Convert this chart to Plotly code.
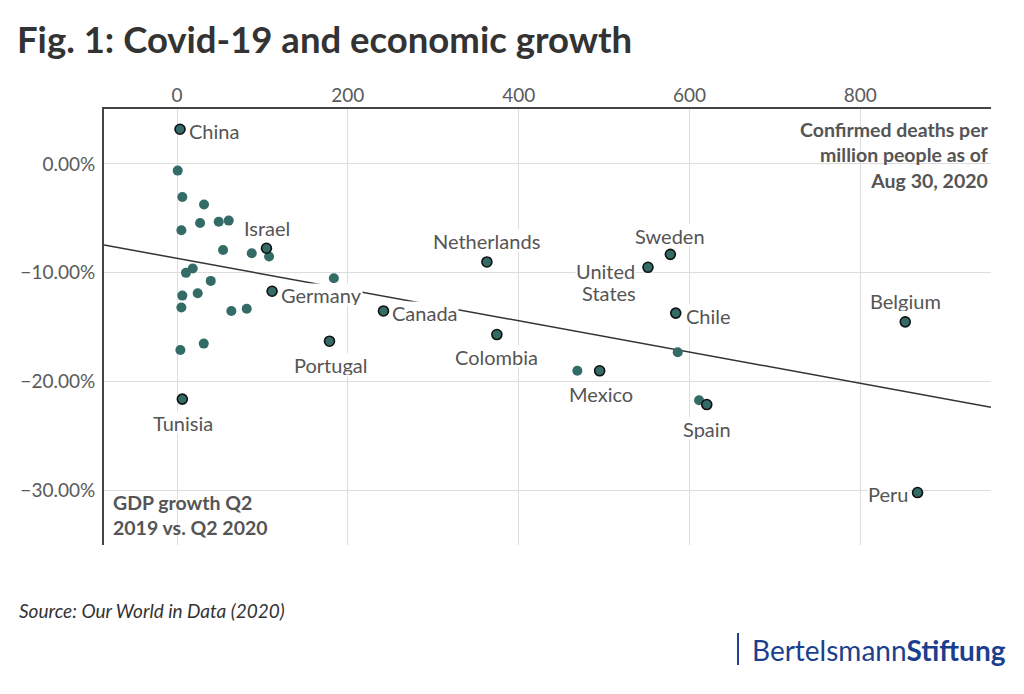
import plotly.graph_objects as go

# countries that get a label (deaths per million, GDP growth in %)
labeled_names = ["China", "Israel", "Germany", "Netherlands", "Canada", "Portugal",
                 "Colombia", "Tunisia", "Sweden", "United States", "Chile",
                 "Belgium", "Mexico", "Spain", "Peru"]
labeled_deaths = [3.5, 104.7, 111.3, 362.8, 241.7, 178.5, 374.5, 6.2,
                  577.6, 551.4, 583.9, 852.6, 494.8, 620.2, 867.0]
labeled_gdp = [3.19, -7.74, -11.69, -9.0, -13.5, -16.28, -15.67, -21.6,
               -8.3, -9.49, -13.7, -14.5, -19.0, -22.1, -30.18]

# the rest of the countries, no label
other_deaths = [0.8, 6.2, 31.6, 27.0, 48.8, 60.5, 5.1, 53.9, 87.5, 107.8,
                10.5, 18.4, 39.5, 6.2, 24.2, 5.1, 63.6, 81.6, 183.6, 3.9,
                31.3, 586.2, 468.7, 611.2]
other_gdp = [-0.61, -3.03, -3.73, -5.42, -5.3, -5.2, -6.09, -7.9, -8.2, -8.5,
             -10.0, -9.6, -10.74, -12.09, -11.88, -13.19, -13.5, -13.3, -10.5, -17.08,
             -16.5, -17.3, -19.0, -21.7]

# trend line end points
trend_deaths = [-85.5, 953.0]
trend_gdp = [-7.44, -22.34]

x_ticks = [0, 200, 400, 600, 800]
y_ticks = [0, -10, -20, -30]
y_ticktext = [f"{v:.2f}%".replace("-", "\u2212") for v in y_ticks]

# where the label sits relative to its dot: (xanchor, xshift, yshift)
label_pos = {
    "China": ("left", 8, -1),
    "Israel": ("center", 1, 21),
    "Germany": ("left", 8, -3),
    "Netherlands": ("center", 0, 21),
    "Canada": ("left", 8, -2),
    "Portugal": ("center", 1, -23),
    "Colombia": ("center", 0, -22),
    "Tunisia": ("center", 1, -23),
    "Sweden": ("center", 0, 19),
    "United States": ("right", -8, -3),
    "Chile": ("left", 9, -2),
    "Belgium": ("center", 0, 21),
    "Mexico": ("center", 1, -23),
    "Spain": ("center", 0, -24),
    "Peru": ("right", -9, -1),
}

teal = "#336b67"
grey_txt = "#555555"

fig = go.Figure()
fig.add_trace(go.Scatter(x=trend_deaths, y=trend_gdp, mode="lines",
                         line=dict(color="#333333", width=1.5), hoverinfo="skip"))
fig.add_trace(go.Scatter(x=other_deaths, y=other_gdp, mode="markers",
                         marker=dict(color=teal, size=10, line=dict(width=0))))
fig.add_trace(go.Scatter(x=labeled_deaths, y=labeled_gdp, mode="markers",
                         text=labeled_names, hoverinfo="text",
                         marker=dict(color=teal, size=10, line=dict(color="#111111", width=1.6))))

for name, xv, yv in zip(labeled_names, labeled_deaths, labeled_gdp):
    anc, dx, dy = label_pos[name]
    # long names are wrapped after the first word, lines 22px apart
    lines = name.split(" ") if name == "United States" else [name]
    for i, line in enumerate(lines):
        fig.add_annotation(x=xv, y=yv, xref="x", yref="y", text=line, showarrow=False,
                           xanchor=anc if len(lines) == 1 else "center",
                           yanchor="middle",
                           xshift=dx if len(lines) == 1 else dx - 32 - (2 if i == 0 else -1),
                           yshift=dy - 22 * i, height=21, valign="middle",
                           bgcolor="white", borderpad=0, align="center",
                           font=dict(family="Lato", size=20, color=grey_txt))

# axis titles inside the plot
fig.add_annotation(x=1, y=0.985, xref="paper", yref="paper", xanchor="right", yanchor="top",
                   text="<b>Confirmed deaths per<br>million people as of<br>Aug 30, 2020</b>",
                   showarrow=False, align="right",
                   font=dict(family="Lato", size=19.5, color=grey_txt))
fig.add_annotation(x=0.008, y=0.01, xref="paper", yref="paper", xanchor="left", yanchor="bottom",
                   text="<b>GDP growth Q2<br>2019 vs. Q2 2020</b>",
                   showarrow=False, align="left",
                   font=dict(family="Lato", size=19.5, color=grey_txt))

# source + logo
fig.add_annotation(x=-0.098, y=-0.151, xref="paper", yref="paper", xanchor="left", yanchor="middle",
                   text="<i>Source: Our World in Data (2020)</i>", showarrow=False,
                   font=dict(family="Lato", size=19, color="#333333"))
fig.add_annotation(x=1.019, y=-0.241, xref="paper", yref="paper", xanchor="right", yanchor="middle",
                   text="Bertelsmann<b>Stiftung</b>", showarrow=False,
                   font=dict(family="Lato", size=28, color="#1b3f8e"))
fig.add_shape(type="line", xref="paper", yref="paper", x0=0.7148, x1=0.7148, y0=-0.2018, y1=-0.2752,
              line=dict(color="#1b3f8e", width=2))

fig.update_layout(
    width=1024, height=694,
    margin=dict(l=104, r=33, t=109, b=149),
    paper_bgcolor="white", plot_bgcolor="white",
    showlegend=False,
    font=dict(family="Lato", color=grey_txt),
    title=dict(text="<b>Fig. 1: Covid-19 and economic growth</b>", xref="container", yref="container",
               x=17 / 1024, xanchor="left", y=1 - 40 / 694, yanchor="middle",
               font=dict(family="Lato", size=36.5, color="#333333")),
    xaxis=dict(side="top", range=[-85.5, 953], tickvals=x_ticks, showgrid=True,
               gridcolor="#dddddd", gridwidth=1, zeroline=False, showline=True,
               linecolor="#444444", linewidth=2, ticks="", ticklabelstandoff=-3,
               tickfont=dict(family="Lato", size=19, color="#5a5a5a")),
    yaxis=dict(range=[-35, 5.05], tickvals=y_ticks, ticktext=y_ticktext, showgrid=True,
               gridcolor="#dddddd", gridwidth=1, zeroline=False, showline=True,
               linecolor="#444444", linewidth=2, ticks="", ticklabelstandoff=3,
               tickfont=dict(family="Lato", size=19, color="#5a5a5a")),
)

# page has a default 8px body margin, drop it so the figure sits at 0,0
fig.write_html("out.html", config={"displayModeBar": False},
               post_script="document.body.style.margin='0';")
